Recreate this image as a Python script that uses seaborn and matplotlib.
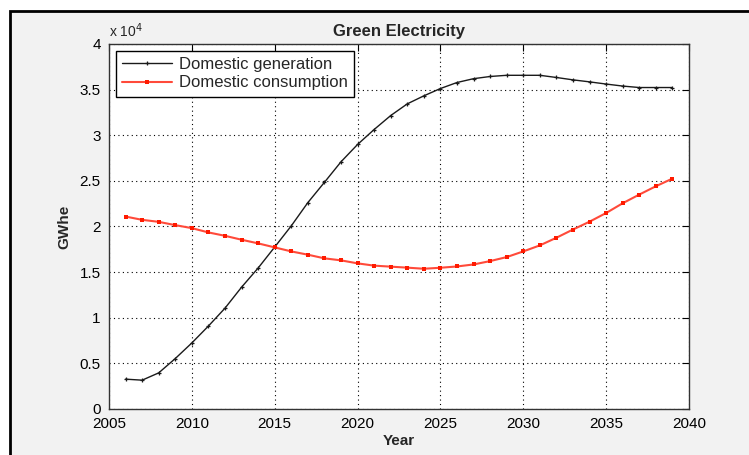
import numpy as np
import pandas as pd
import matplotlib
matplotlib.use("Agg")
import matplotlib.pyplot as plt
from matplotlib.patches import Rectangle
from matplotlib.ticker import FuncFormatter, MultipleLocator
import seaborn as sns

years = list(range(2006, 2040))
generation = [3270, 3160, 3960, 5530, 7240, 9090, 11050, 13350, 15450, 17750,
              20070, 22620, 24840, 27090, 28990, 30630, 32160, 33440, 34320, 35120,
              35780, 36200, 36440, 36570, 36570, 36570, 36330, 36070, 35850, 35610,
              35390, 35230, 35230, 35230]
consumption = [21090, 20730, 20510, 20150, 19820, 19350, 18980, 18550, 18150, 17710,
               17270, 16910, 16510, 16290, 15960, 15710, 15600, 15490, 15370, 15480,
               15620, 15840, 16210, 16650, 17270, 17930, 18770, 19670, 20530, 21480,
               22550, 23500, 24410, 25250]
series_names = ["Domestic generation", "Domestic consumption"]

sns.set_style("white")
plt.rcParams['font.family'] = ['Liberation Sans', 'DejaVu Sans']

fig = plt.figure(figsize=(7.49, 4.55), dpi=100)
fig.patch.set_facecolor("white")
fig.patches.append(Rectangle((10/749, -0.05), 1.2, 1 - 11/455 + 0.05,
                             transform=fig.transFigure, facecolor="#f2f2f2",
                             edgecolor="black", lw=2.0, zorder=-10))

ax = fig.add_axes([109/749, 1 - 409/455, (689-109)/749, (409-44)/455])
ax.set_facecolor("white")

df = pd.DataFrame({"Year": years * 2,
                   "val": generation + consumption,
                   "series": [series_names[0]] * len(years) + [series_names[1]] * len(years)})

sns.lineplot(data=df[df.series == series_names[0]], x="Year", y="val", ax=ax,
             color="#1a1a1a", lw=1.0, marker="+", markersize=3, mew=0.9,
             mec="#1a1a1a", label=series_names[0])
sns.lineplot(data=df[df.series == series_names[1]], x="Year", y="val", ax=ax,
             color="#ff4a3a", lw=1.5, marker="s", markersize=3.2, mew=0,
             markerfacecolor="#ff1a00", label=series_names[1])

ax.set_xlim(2005, 2040)
ax.set_ylim(0, 40000)
ax.xaxis.set_major_locator(MultipleLocator(5))
ax.yaxis.set_major_locator(MultipleLocator(5000))
ax.yaxis.set_major_formatter(FuncFormatter(lambda v, p: f"{v/1e4:g}"))
ax.grid(True, color="black", linestyle=(0, (1, 3)), linewidth=0.8)
ax.tick_params(direction="in", top=True, right=True, length=5, width=0.8,
               labelsize=11, colors="black")
ax.tick_params(axis="x", pad=6)
ax.tick_params(axis="y", pad=6)
for s in ax.spines.values():
    s.set_color("#333333")
    s.set_linewidth(1.0)

ax.set_xlabel("Year", fontsize=11, fontweight="bold", labelpad=2)
ax.set_ylabel("GWhe", fontsize=11, fontweight="bold", labelpad=6)
ax.set_title("Green Electricity", fontsize=12, fontweight="bold", pad=6)
ax.text(0.0, 1.012, r"x 10$^{4}$", transform=ax.transAxes, fontsize=10,
        ha="left", va="bottom")

leg = ax.legend(loc="upper left", fontsize=12, frameon=True, fancybox=False,
                framealpha=1, edgecolor="black", handlelength=3.0,
                borderpad=0.38, labelspacing=0.2, handletextpad=0.4,
                borderaxespad=0.4)
leg.get_frame().set_linewidth(1.0)

fig.savefig("out.png", dpi=100, facecolor=fig.get_facecolor())
